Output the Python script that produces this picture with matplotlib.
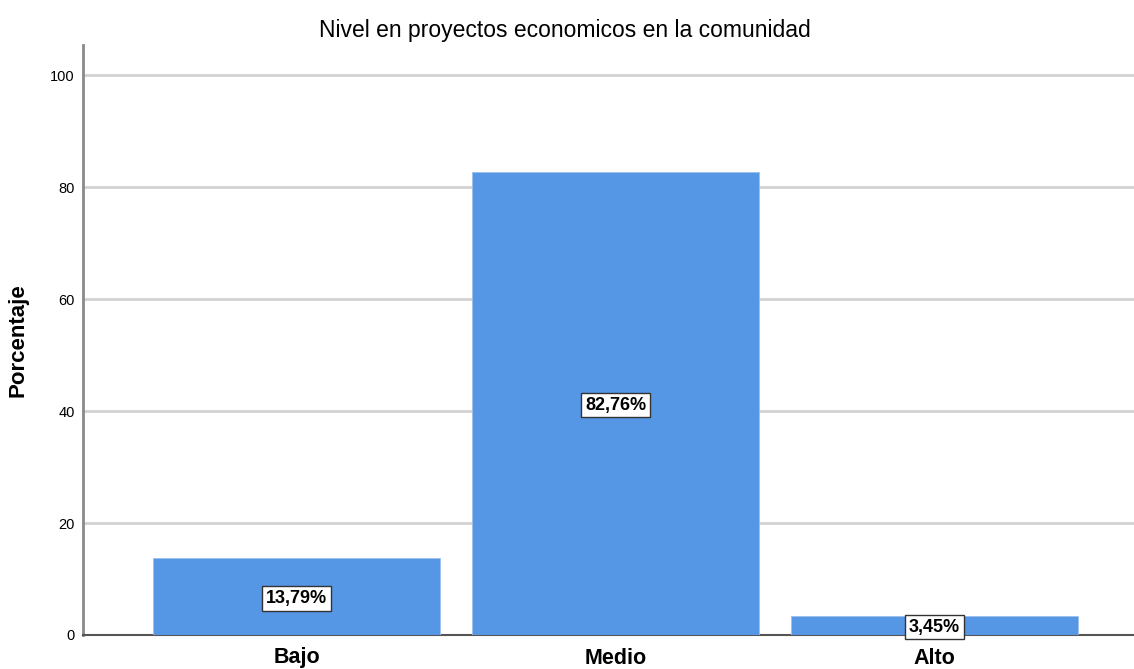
import matplotlib
matplotlib.use('Agg')
import matplotlib.pyplot as plt

categories = ["Bajo", "Medio", "Alto"]
percentages = [13.79, 82.76, 3.45]
bar_labels = ["13,79%", "82,76%", "3,45%"]
y_ticks = [0, 20, 40, 60, 80, 100]

plt.rcParams['font.family'] = ['Liberation Sans', 'DejaVu Sans']

fig = plt.figure(figsize=(11.34, 6.69), dpi=100)
ax = fig.add_axes([83 / 1134, 1 - 635 / 669, 1 - 83 / 1134, (635 - 45) / 669])

x = range(len(categories))
ax.bar(x, percentages, width=0.9, color="#5596E5", edgecolor="#9cc0ee", linewidth=0.6, zorder=3)

# value labels in the middle of each bar
for i, (val, lab) in enumerate(zip(percentages, bar_labels)):
    ax.text(i, val / 2, lab, ha="center", va="center_baseline", fontsize=13, fontweight="bold",
            zorder=5,
            bbox=dict(boxstyle="square,pad=0.2", facecolor="white", edgecolor="#333333", linewidth=1))

ax.set_xlim(-0.669, 2.625)
ax.set_ylim(0, 105.36)
ax.set_yticks(y_ticks)
ax.set_xticks(list(x))
ax.set_xticklabels(categories, fontsize=15.5, fontweight="bold")
ax.tick_params(axis="both", length=0)
ax.tick_params(axis="y", labelsize=10.5, pad=6)
ax.tick_params(axis="x", pad=9)

ax.grid(axis="y", color="#d2d2d2", linewidth=2, zorder=0)
ax.set_axisbelow(True)

for side in ["top", "right"]:
    ax.spines[side].set_visible(False)
ax.spines["left"].set_color("#8a8a8a")
ax.spines["left"].set_linewidth(2)
ax.spines["bottom"].set_color("#555555")
ax.spines["bottom"].set_linewidth(1.5)

ax.set_ylabel("Porcentaje", fontsize=16, fontweight="bold")
ax.yaxis.set_label_coords(-54 / 1051, 0.5)
fig.text(565 / 1134, 1 - 37 / 669, "Nivel en proyectos economicos en la comunidad",
         fontsize=16.5, ha="center", va="baseline")

fig.savefig("out.png", dpi=100)
plt.close(fig)
